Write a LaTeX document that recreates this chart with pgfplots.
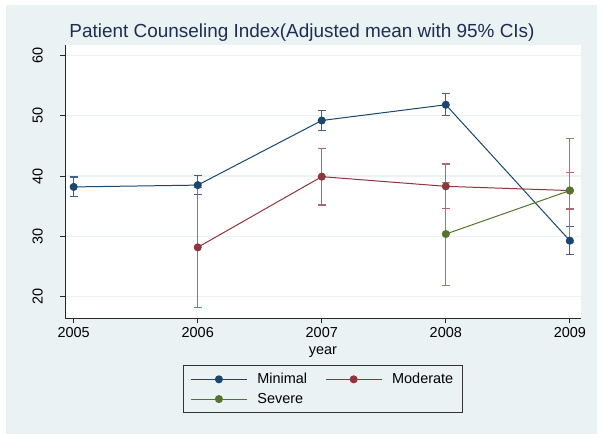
\documentclass[border=0pt]{standalone}
\usepackage{fontspec}
\setmainfont{Liberation Sans}
\usepackage{pgfplots}
\pgfplotsset{compat=1.18}

\definecolor{bgpanel}{RGB}{234,242,243}
\definecolor{navy}{RGB}{26,71,111}
\definecolor{maroon}{RGB}{144,53,59}
\definecolor{forest}{RGB}{85,117,47}
\definecolor{titleblue}{RGB}{30,45,83}

% columns: year, mean, half width of the 95% CI
\pgfplotstableread{
x y e
2005 38.2 1.65
2006 38.5 1.6
2007 49.2 1.65
2008 51.8 1.8
2009 29.3 2.3
}\minimal
\pgfplotstableread{
x y e
2006 28.2 9.9
2007 39.9 4.7
2008 38.3 3.7
2009 37.6 3.05
}\moderate
\pgfplotstableread{
x y e
2008 30.4 8.5
2009 37.6 8.6
}\severe

\begin{document}
\begin{tikzpicture}[x=1bp,y=1bp]
  % page and outer panel
  \path[use as bounding box] (-65,-116) rectangle (540,318);
  \fill[white] (-65,-116) rectangle (540,318);
  \fill[bgpanel] (-59,-116) rectangle (532,313);

  \begin{axis}[
      at={(0,0)}, anchor=south west,
      scale only axis,
      width=516bp, height=273bp,
      xmin=2004.93, xmax=2009.09,
      ymin=16.5, ymax=61.7,
      axis background/.style={fill=white},
      axis x line*=bottom, axis y line*=left,
      axis line style={black!85, line width=0.8bp},
      tick align=outside,
      major tick length=5bp,
      tick style={black!85, line width=0.8bp},
      xtick={2005,2006,2007,2008,2009},
      ytick={20,30,40,50,60},
      x tick label style={/pgf/number format/1000 sep={}},
      ymajorgrids,
      grid style={bgpanel, line width=1.2bp},
      tick label style={font=\fontsize{14.5}{14.5}\selectfont},
      /pgf/number format/assume math mode=true,
      yticklabel style={rotate=90, anchor=south, inner sep=0bp, yshift=17bp},
      xticklabel style={inner sep=0bp, yshift=-4bp},
      xlabel={year},
      xlabel style={font=\fontsize{14.5}{14.5}\selectfont, inner sep=0bp, yshift=-9bp},
      legend columns=2,
      legend style={
        at={(0.2287,-0.172)}, anchor=north west,
        fill=bgpanel, draw=black!80, line width=0.8bp,
        font=\fontsize{14.5}{14.5}\selectfont,
        inner xsep=7bp, inner ysep=6bp,
        /tikz/every odd column/.append style={column sep=8bp},
        /tikz/every even column/.append style={column sep=16bp},
        row sep=4bp,
      },
      legend cell align=left,
      legend image code/.code={
        \draw[mark repeat=2, mark phase=2, #1]
          plot coordinates {(0bp,0bp) (28bp,0bp) (56bp,0bp)};
      },
    ]
    % confidence intervals
    \addplot[forget plot, only marks, mark=none,
      error bars/.cd, y dir=both, y explicit,
      error bar style={navy!85, line width=1.1bp},
      error mark options={rotate=90, mark size=4bp, navy!85, line width=1.1bp}]
      table[x=x, y=y, y error=e] {\minimal};
    \addplot[forget plot, only marks, mark=none,
      error bars/.cd, y dir=both, y explicit,
      error bar style={maroon!75, line width=1.1bp},
      error mark options={rotate=90, mark size=4bp, maroon!75, line width=1.1bp}]
      table[x=x, y=y, y error=e] {\moderate};
    \addplot[forget plot, only marks, mark=none,
      error bars/.cd, y dir=both, y explicit,
      error bar style={forest!80, line width=1.1bp},
      error mark options={rotate=90, mark size=4bp, forest!80, line width=1.1bp}]
      table[x=x, y=y, y error=e] {\severe};

    % adjusted means
    \addplot[navy, line width=1bp, mark=*, mark size=3.5bp] table[x=x, y=y] {\minimal};
    \addlegendentry{Minimal}
    \addplot[maroon, line width=1bp, mark=*, mark size=3.5bp] table[x=x, y=y] {\moderate};
    \addlegendentry{Moderate}
    \addplot[forest, line width=1bp, mark=*, mark size=3.5bp] table[x=x, y=y] {\severe};
    \addlegendentry{Severe}
  \end{axis}

  \node[titleblue, font=\fontsize{19}{19}\selectfont] at (237,285) {Patient Counseling Index(Adjusted mean with 95\% CIs)};
\end{tikzpicture}
\end{document}
